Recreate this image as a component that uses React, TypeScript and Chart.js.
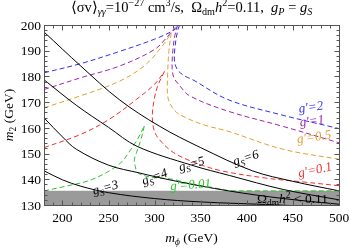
import React, { useEffect, useRef } from "react";
import { Chart, registerables } from "chart.js";

Chart.register(...registerables);

type P = [number, number];
type Seg = { t: string; i?: boolean; d?: number };

// ---------- axes ----------
const X_MIN = 180;
const X_MAX = 500;
const Y_MIN = 130;
const Y_MAX = 200;
const xTickValues = [200, 250, 300, 350, 400, 450, 500];
const yTickValues = [130, 140, 150, 160, 170, 180, 190, 200];
const xMinorStep = 10;
const yMinorStep = 2;

// ---------- g_S contours (solid black) ----------
const gS6: P[] = [[180, 197.3], [220, 184], [261.6, 171], [305, 160.7], [350, 152.3], [406, 143.3], [450, 139.2], [500, 135.5]];
const gS5: P[] = [[180, 178.7], [215, 168.8], [250, 160.2], [281, 152.8], [340, 145.5], [381, 141.5], [440, 136], [500, 132]];
const gS4: P[] = [[180, 163.9], [200, 156.5], [215, 151.7], [250, 145.5], [283, 142.5], [320, 139.5], [380, 135.5], [440, 132.5], [500, 130.3]];
const gS3: P[] = [[180, 143.3], [200, 139.8], [220, 137.3], [250, 134.8], [300, 132.5], [350, 131.2], [420, 130.2], [460, 129.6]];

// ---------- g' contours (dashed), two branches each ----------
const gp2Left: P[] = [[180, 181.4], [220, 185], [260, 189.5], [300, 194.5], [320, 197.8], [327, 200]];
const gp2Right: P[] = [[327, 200], [324.5, 197], [322, 191], [321.5, 186], [325, 182.5], [332, 180.3], [341.4, 178.7], [379.5, 171], [435.8, 165.2], [499, 159.8], [500, 159.7]];
const gp1Left: P[] = [[180, 174.9], [220, 179.5], [261.6, 184], [300, 190.5], [314, 195.5], [322, 199], [325, 200]];
const gp1Right: P[] = [[325, 200], [322, 196], [319.5, 189], [319, 183], [321, 179.5], [327, 176.5], [337.8, 172.5], [379.5, 166.5], [440, 160.5], [500, 154.2]];
const gp05Left: P[] = [[180, 167.8], [220, 172.5], [261.6, 178.1], [290, 184.5], [310.6, 192.9], [318, 197]];
const gp05Right: P[] = [[318, 197], [315.5, 190], [314.2, 181.3], [314.2, 172.3], [319, 168], [327, 165.2], [352.3, 161.3], [379.5, 158.7], [439, 151.7], [500, 147.8]];
const gp01Left: P[] = [[180, 152.3], [220, 157.5], [250.7, 163.3], [280, 171], [300, 177], [310.6, 181.9]];
const gp01Right: P[] = [[310.6, 181.9], [303, 176], [299, 170], [297.5, 164], [299.5, 159], [305, 155.5], [320, 150.5], [340, 147], [370, 143.5], [420, 140.5], [460, 139], [500, 137.5]];
const gp001Left: P[] = [[180, 135.5], [203.6, 137.3], [232.6, 140], [261.6, 145.9], [274.4, 151.7], [282, 156], [288.8, 160.7]];
const gp001Right: P[] = [[288.8, 160.7], [285.2, 155.5], [280.5, 150.5], [278, 147.8], [279, 145], [281.5, 142.6], [290, 141.3], [297.9, 140.7], [319.6, 140], [338, 138.3], [360, 137], [381.4, 135.6], [400, 135.5], [500, 135.5]];

// ---------- excluded relic region ----------
const relicBoundary: P[] = [[180, 135.5], [500, 135.5]];

// ---------- colours ----------
const BLUE = "#2f2ff2";
const PURPLE = "#a024a8";
const ORANGE = "#e0a030";
const RED = "#f03030";
const GREEN = "#30c030";
const GRAY = "#9a9a9a";

const FONT = '"Liberation Serif", "Times New Roman", serif';

// ---------- texts ----------
const titleSegs: Seg[] = [
  { t: "⟨σv⟩" }, { t: "γγ", i: true, d: 1 }, { t: "=10" }, { t: "−27", d: -1 }, { t: " cm" }, { t: "3", d: -1 },
  { t: "/s,  Ω" }, { t: "dm", d: 1 }, { t: "h", i: true }, { t: "2", d: -1 }, { t: "=0.11,  " },
  { t: "g", i: true }, { t: "P", i: true, d: 1 }, { t: " = " }, { t: "g", i: true }, { t: "S", i: true, d: 1 },
];
const yTitleSegs: Seg[] = [{ t: "m", i: true }, { t: "2", d: 1 }, { t: " (GeV)" }];
const xTitleSegs: Seg[] = [{ t: "m", i: true }, { t: "ϕ", i: true, d: 1 }, { t: " (GeV)" }];
const relicSegs: Seg[] = [{ t: "Ω" }, { t: "dm", d: 1 }, { t: "h", i: true }, { t: "2", d: -1 }, { t: " < 0.11" }];

const gsLabel = (n: string): Seg[] => [{ t: "g", i: true }, { t: "S", i: true, d: 1 }, { t: "=" + n, i: true }];
const gpLabel = (n: string): Seg[] => [{ t: "g′=" + n, i: true }];

const curveLabels: { segs: Seg[]; at: P; rot: number; color: string }[] = [
  { segs: gsLabel("3"), at: [246.4, 137], rot: -15, color: "#000" },
  { segs: gsLabel("4"), at: [299.7, 141.2], rot: -20, color: "#000" },
  { segs: gsLabel("5"), at: [340, 146.2], rot: -15, color: "#000" },
  { segs: gsLabel("6"), at: [398.8, 148.6], rot: -18, color: "#000" },
  { segs: gpLabel("2"), at: [469.5, 168.3], rot: -8, color: BLUE },
  { segs: gpLabel("1"), at: [470.6, 162.9], rot: -8, color: PURPLE },
  { segs: gpLabel("0.5"), at: [472.8, 156.7], rot: -8, color: ORANGE },
  { segs: gpLabel("0.1"), at: [473.9, 143.9], rot: -12, color: RED },
  { segs: gpLabel("0.01"), at: [338.9, 138.1], rot: -4, color: GREEN },
];

function segFont(s: Seg, size: number) {
  const sz = s.d ? size * 0.7 : size;
  return `${s.i ? "italic " : ""}${sz}px ${FONT}`;
}
function richWidth(ctx: CanvasRenderingContext2D, segs: Seg[], size: number) {
  let w = 0;
  for (const s of segs) {
    ctx.font = segFont(s, size);
    w += ctx.measureText(s.t).width;
  }
  return w;
}
function drawRich(ctx: CanvasRenderingContext2D, segs: Seg[], x: number, y: number, size: number, align: string, rot: number, color: string) {
  ctx.save();
  ctx.translate(x, y);
  if (rot) ctx.rotate((rot * Math.PI) / 180);
  const w = richWidth(ctx, segs, size);
  let cx = align === "center" ? -w / 2 : align === "right" ? -w : 0;
  ctx.fillStyle = color;
  ctx.textAlign = "left";
  ctx.textBaseline = "alphabetic";
  const base = size * 0.35;
  for (const s of segs) {
    ctx.font = segFont(s, size);
    const dy = s.d === 1 ? size * 0.25 : s.d === -1 ? -size * 0.4 : 0;
    ctx.fillText(s.t, cx, base + dy);
    cx += ctx.measureText(s.t).width;
  }
  ctx.restore();
}

const overlay = {
  id: "overlay",
  afterDatasetsDraw(chart: any) {
    const { ctx, chartArea: a, scales } = chart;
    const xs = scales.x;
    const ys = scales.y;
    ctx.save();
    // curve labels
    for (const l of curveLabels) {
      drawRich(ctx, l.segs, xs.getPixelForValue(l.at[0]), ys.getPixelForValue(l.at[1]), 13, "center", l.rot, l.color);
    }
    drawRich(ctx, relicSegs, xs.getPixelForValue(411), ys.getPixelForValue(132.6), 13.5, "left", 0, "#000");
    // frame
    ctx.strokeStyle = "#555";
    ctx.lineWidth = 1;
    ctx.strokeRect(a.left + 0.5, a.top + 0.5, a.right - a.left, a.bottom - a.top);
    // ticks
    ctx.beginPath();
    for (let v = X_MIN; v <= X_MAX + 1e-6; v += xMinorStep) {
      const px = Math.round(xs.getPixelForValue(v)) + 0.5;
      const len = v % 50 === 0 ? 5 : 3;
      ctx.moveTo(px, a.bottom + 0.5);
      ctx.lineTo(px, a.bottom + 0.5 - len);
      ctx.moveTo(px, a.top + 0.5);
      ctx.lineTo(px, a.top + 0.5 + len);
    }
    for (let v = Y_MIN; v <= Y_MAX + 1e-6; v += yMinorStep) {
      const py = Math.round(ys.getPixelForValue(v)) + 0.5;
      const len = v % 10 === 0 ? 5 : 3;
      ctx.moveTo(a.left + 0.5, py);
      ctx.lineTo(a.left + 0.5 + len, py);
      ctx.moveTo(a.right + 0.5, py);
      ctx.lineTo(a.right + 0.5 - len, py);
    }
    ctx.stroke();
    // tick labels
    for (const v of xTickValues) {
      drawRich(ctx, [{ t: String(v) }], xs.getPixelForValue(v), 217, 13.5, "center", 0, "#000");
    }
    for (const v of yTickValues) {
      drawRich(ctx, [{ t: String(v) }], a.left - 3, ys.getPixelForValue(v), 13.5, "right", 0, "#000");
    }
    // titles
    drawRich(ctx, titleSegs, (a.left + a.right) / 2, 6.5, 14.5, "center", 0, "#000");
    drawRich(ctx, xTitleSegs, (a.left + a.right) / 2, 237, 13.5, "center", 0, "#000");
    drawRich(ctx, yTitleSegs, 8, (a.top + a.bottom) / 2, 13.5, "center", -90, "#000");
    ctx.restore();
  },
};

const toXY = (pts: P[]) => pts.map(([x, y]) => ({ x, y }));
const line = (pts: P[], color: string, dashed: boolean) => ({
  data: toXY(pts),
  showLine: true,
  borderColor: color,
  borderWidth: 1,
  borderDash: dashed ? [5, 3] : [],
  pointRadius: 0,
  fill: false,
  tension: 0.35,
  order: 1,
});

export default function App() {
  const ref = useRef<HTMLCanvasElement>(null);
  useEffect(() => {
    document.body.style.margin = "0";
    const canvas = ref.current!;
    const chart = new Chart(canvas, {
      type: "scatter",
      data: {
        datasets: [
          {
            data: toXY(relicBoundary),
            showLine: true,
            borderWidth: 0,
            borderColor: "rgba(0,0,0,0)",
            backgroundColor: GRAY,
            pointRadius: 0,
            fill: "start",
            order: 10,
          } as any,
          line(gS6, "#000", false),
          line(gS5, "#000", false),
          line(gS4, "#000", false),
          line(gS3, "#000", false),
          line(gp2Left, BLUE, true),
          line(gp2Right, BLUE, true),
          line(gp1Left, PURPLE, true),
          line(gp1Right, PURPLE, true),
          line(gp05Left, ORANGE, true),
          line(gp05Right, ORANGE, true),
          line(gp01Left, RED, true),
          line(gp01Right, RED, true),
          line(gp001Left, GREEN, true),
          line(gp001Right, GREEN, true),
        ],
      },
      options: {
        animation: false,
        responsive: false,
        devicePixelRatio: 1,
        layout: { padding: { left: 44, right: 11, top: 25, bottom: 43 } },
        plugins: { legend: { display: false }, tooltip: { enabled: false } },
        scales: {
          x: { type: "linear", min: X_MIN, max: X_MAX, display: false },
          y: { type: "linear", min: Y_MIN, max: Y_MAX, display: false },
        },
      },
      plugins: [overlay],
    });
    return () => chart.destroy();
  }, []);
  return <canvas ref={ref} width={350} height={248} style={{ display: "block" }} />;
}
